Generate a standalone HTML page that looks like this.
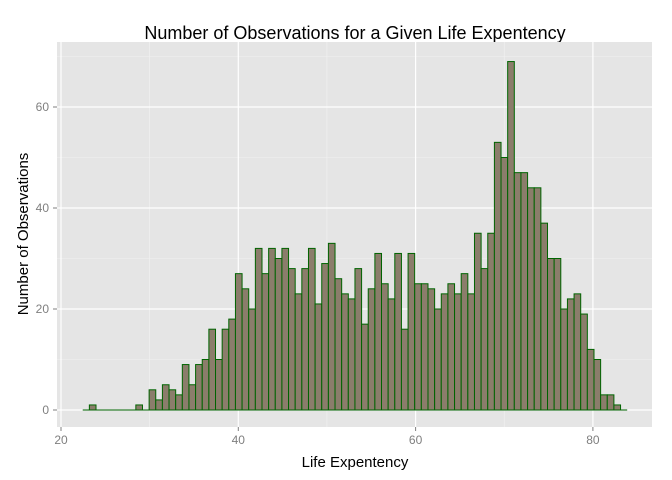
<!DOCTYPE html>
<html><head><meta charset="utf-8"><style>
html,body{margin:0;padding:0;background:#fff;}
svg{display:block;font-family:"Liberation Sans",sans-serif;}
</style></head><body>
<svg id="chart" width="672" height="480" viewBox="0 0 672 480">
<rect width="672" height="480" fill="#fff"/>
<text x="355" y="39" text-anchor="middle" font-size="18" fill="#000">Number of Observations for a Given Life Expentency</text>
<rect x="57" y="42" width="595" height="385" fill="#e5e5e5"/>
<g id="grid"></g>
<g id="bars"></g>
<g id="axes"></g>
<text x="355" y="467" text-anchor="middle" font-size="15" fill="#000">Life Expentency</text>
<text transform="translate(28,234) rotate(-90)" text-anchor="middle" font-size="15" fill="#000">Number of Observations</text>
</svg>
<script>
const counts = [0,1,0,0,0,0,0,0,1,0,4,2,5,4,3,9,5,9,10,16,10,16,18,27,24,20,32,27,32,
30,32,28,23,28,32,21,29,33,26,23,22,28,17,24,31,25,22,31,16,31,25,25,24,20,23,25,23,
27,23,35,28,35,53,50,69,47,47,44,44,37,30,30,20,22,23,19,12,10,3,3,1,0];
const binStart = 22.45;
const binWidth = 0.749;
const xTicks = [20,40,60,80];
const xMinor = [30,50,70];
const yTicks = [0,20,40,60];
const yMinor = [10,30,50,70];

const P = {l:57,r:652,t:42,b:427};
const xs = v => 61 + (v-20)*8.865;
const ys = v => 410 - v*5.05;
const NS = "http://www.w3.org/2000/svg";
function mk(tag, attrs, parent){const e=document.createElementNS(NS,tag);for(const k in attrs)e.setAttribute(k,attrs[k]);parent.appendChild(e);return e;}
const grid=document.getElementById('grid'), bars=document.getElementById('bars'), axes=document.getElementById('axes');

yMinor.forEach(v=>{if(ys(v)<P.t)return;const l=mk('line',{x1:P.l,x2:P.r,y1:ys(v),y2:ys(v),stroke:'#f2f2f2','stroke-width':0.6},grid);

});
xMinor.forEach(v=>{const l=mk('line',{x1:xs(v),x2:xs(v),y1:P.t,y2:P.b,stroke:'#f2f2f2','stroke-width':0.6},grid);

});
yTicks.forEach(v=>{const l=mk('line',{x1:P.l,x2:P.r,y1:ys(v),y2:ys(v),stroke:'#fff','stroke-width':1.2},grid);


const t=mk('text',{x:49,y:ys(v)+4,'text-anchor':'end','font-size':12,fill:'#7f7f7f'},axes);t.textContent=v;


const k=mk('line',{x1:53,x2:57,y1:ys(v),y2:ys(v),stroke:'#7f7f7f','stroke-width':1},axes);

});
xTicks.forEach(v=>{const l=mk('line',{x1:xs(v),x2:xs(v),y1:P.t,y2:P.b,stroke:'#fff','stroke-width':1.2},grid);


const t=mk('text',{x:xs(v),y:444,'text-anchor':'middle','font-size':12,fill:'#7f7f7f'},axes);t.textContent=v;


const k=mk('line',{x1:xs(v),x2:xs(v),y1:427,y2:431,stroke:'#7f7f7f','stroke-width':1},axes);

});

const base=mk('line',{x1:xs(binStart),x2:xs(binStart+counts.length*binWidth),y1:ys(0),y2:ys(0),stroke:'#006400','stroke-width':1},bars);


counts.forEach((c,i)=>{
  if(c<=0)return;
  const x0=xs(binStart+i*binWidth), x1=xs(binStart+(i+1)*binWidth);
  const y0=ys(0), y1=ys(c);
  const r=mk('rect',{x:x0,y:y1,width:x1-x0,height:y0-y1,fill:'#8b7d6b',stroke:'#006400','stroke-width':1},bars);
  
  
});
</script>
</body></html>
